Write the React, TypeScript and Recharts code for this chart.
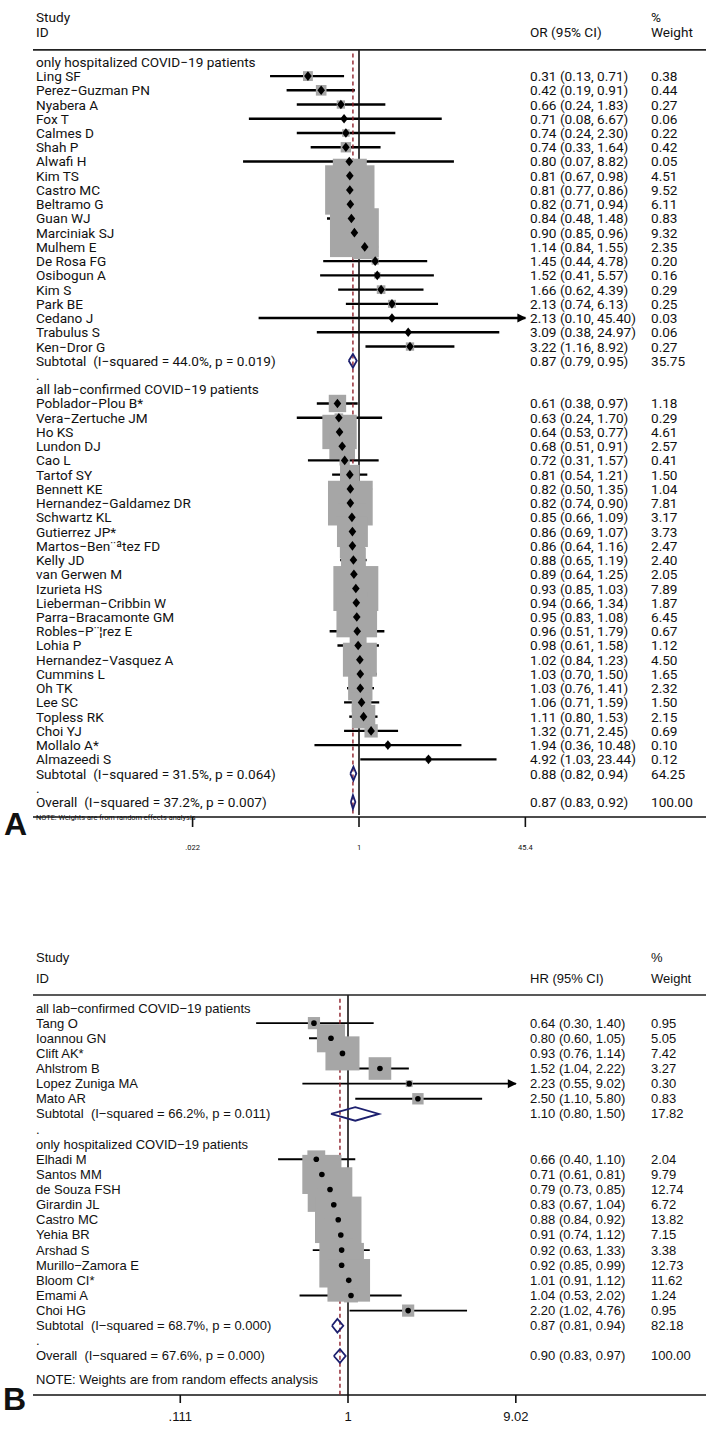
import React from 'react';
import { ScatterChart, Scatter, XAxis, YAxis, ErrorBar } from 'recharts';

// ---------------- Panel A data (OR) ----------------
const A_SECTION_TITLES = ['only hospitalized COVID\u221219 patients', 'all lab\u2212confirmed COVID\u221219 patients'];

const A_HOSP_STUDY = ['Ling SF', 'Perez\u2212Guzman PN', 'Nyabera A', 'Fox T', 'Calmes D', 'Shah P', 'Alwafi H', 'Kim TS', 'Castro MC', 'Beltramo G', 'Guan WJ', 'Marciniak SJ', 'Mulhem E', 'De Rosa FG', 'Osibogun A', 'Kim S', 'Park BE', 'Cedano J', 'Trabulus S', 'Ken\u2212Dror G'];
const A_HOSP_EST = [0.31, 0.42, 0.66, 0.71, 0.74, 0.74, 0.80, 0.81, 0.81, 0.82, 0.84, 0.90, 1.14, 1.45, 1.52, 1.66, 2.13, 2.13, 3.09, 3.22];
const A_HOSP_LO = [0.13, 0.19, 0.24, 0.08, 0.24, 0.33, 0.07, 0.67, 0.77, 0.71, 0.48, 0.85, 0.84, 0.44, 0.41, 0.62, 0.74, 0.10, 0.38, 1.16];
const A_HOSP_HI = [0.71, 0.91, 1.83, 6.67, 2.30, 1.64, 8.82, 0.98, 0.86, 0.94, 1.48, 0.96, 1.55, 4.78, 5.57, 4.39, 6.13, 45.40, 24.97, 8.92];
const A_HOSP_WEIGHT = [0.38, 0.44, 0.27, 0.06, 0.22, 0.42, 0.05, 4.51, 9.52, 6.11, 0.83, 9.32, 2.35, 0.20, 0.16, 0.29, 0.25, 0.03, 0.06, 0.27];
const A_HOSP_SUBTOTAL = { label: 'Subtotal  (I\u2212squared = 44.0%, p = 0.019)', est: 0.87, lo: 0.79, hi: 0.95, weight: 35.75 };

const A_LAB_STUDY = ['Poblador\u2212Plou B*', 'Vera\u2212Zertuche JM', 'Ho KS', 'Lundon DJ', 'Cao L', 'Tartof SY', 'Bennett KE', 'Hernandez\u2212Galdamez DR', 'Schwartz KL', 'Gutierrez JP*', 'Martos\u2212Ben\u00a8\u00aatez FD', 'Kelly JD', 'van Gerwen M', 'Izurieta HS', 'Lieberman\u2212Cribbin W', 'Parra\u2212Bracamonte GM', 'Robles\u2212P\u00a8\u00a6rez E', 'Lohia P', 'Hernandez\u2212Vasquez A', 'Cummins L', 'Oh TK', 'Lee SC', 'Topless RK', 'Choi YJ', 'Mollalo A*', 'Almazeedi S'];
const A_LAB_EST = [0.61, 0.63, 0.64, 0.68, 0.72, 0.81, 0.82, 0.82, 0.85, 0.86, 0.86, 0.88, 0.89, 0.93, 0.94, 0.95, 0.96, 0.98, 1.02, 1.03, 1.03, 1.06, 1.11, 1.32, 1.94, 4.92];
const A_LAB_LO = [0.38, 0.24, 0.53, 0.51, 0.31, 0.54, 0.50, 0.74, 0.66, 0.69, 0.64, 0.65, 0.64, 0.85, 0.66, 0.83, 0.51, 0.61, 0.84, 0.70, 0.76, 0.71, 0.80, 0.71, 0.36, 1.03];
const A_LAB_HI = [0.97, 1.70, 0.77, 0.91, 1.57, 1.21, 1.35, 0.90, 1.09, 1.07, 1.16, 1.19, 1.25, 1.03, 1.34, 1.08, 1.79, 1.58, 1.23, 1.50, 1.41, 1.59, 1.53, 2.45, 10.48, 23.44];
const A_LAB_WEIGHT = [1.18, 0.29, 4.61, 2.57, 0.41, 1.50, 1.04, 7.81, 3.17, 3.73, 2.47, 2.40, 2.05, 7.89, 1.87, 6.45, 0.67, 1.12, 4.50, 1.65, 2.32, 1.50, 2.15, 0.69, 0.10, 0.12];
const A_LAB_SUBTOTAL = { label: 'Subtotal  (I\u2212squared = 31.5%, p = 0.064)', est: 0.88, lo: 0.82, hi: 0.94, weight: 64.25 };
const A_OVERALL = { label: 'Overall  (I\u2212squared = 37.2%, p = 0.007)', est: 0.87, lo: 0.83, hi: 0.92, weight: 100.0 };
const A_TICKS = [0.022, 1, 45.4];
const A_TICK_LABELS = ['.022', '1', '45.4'];

// ---------------- Panel B data (HR) ----------------
const B_SECTION_TITLES = ['all lab\u2212confirmed COVID\u221219 patients', 'only hospitalized COVID\u221219 patients'];

const B_LAB_STUDY = ['Tang O', 'Ioannou GN', 'Clift AK*', 'Ahlstrom B', 'Lopez Zuniga MA', 'Mato AR'];
const B_LAB_EST = [0.64, 0.80, 0.93, 1.52, 2.23, 2.50];
const B_LAB_LO = [0.30, 0.60, 0.76, 1.04, 0.55, 1.10];
const B_LAB_HI = [1.40, 1.05, 1.14, 2.22, 9.02, 5.80];
const B_LAB_WEIGHT = [0.95, 5.05, 7.42, 3.27, 0.30, 0.83];
const B_LAB_SUBTOTAL = { label: 'Subtotal  (I\u2212squared = 66.2%, p = 0.011)', est: 1.10, lo: 0.80, hi: 1.50, weight: 17.82 };

const B_HOSP_STUDY = ['Elhadi M', 'Santos MM', 'de Souza FSH', 'Girardin JL', 'Castro MC', 'Yehia BR', 'Arshad S', 'Murillo\u2212Zamora E', 'Bloom CI*', 'Emami A', 'Choi HG'];
const B_HOSP_EST = [0.66, 0.71, 0.79, 0.83, 0.88, 0.91, 0.92, 0.92, 1.01, 1.04, 2.20];
const B_HOSP_LO = [0.40, 0.61, 0.73, 0.67, 0.84, 0.74, 0.63, 0.85, 0.91, 0.53, 1.02];
const B_HOSP_HI = [1.10, 0.81, 0.85, 1.04, 0.92, 1.12, 1.33, 0.99, 1.12, 2.02, 4.76];
const B_HOSP_WEIGHT = [2.04, 9.79, 12.74, 6.72, 13.82, 7.15, 3.38, 12.73, 11.62, 1.24, 0.95];
const B_HOSP_SUBTOTAL = { label: 'Subtotal  (I\u2212squared = 68.7%, p = 0.000)', est: 0.87, lo: 0.81, hi: 0.94, weight: 82.18 };
const B_OVERALL = { label: 'Overall  (I\u2212squared = 67.6%, p = 0.000)', est: 0.90, lo: 0.83, hi: 0.97, weight: 100.0 };
const B_TICKS = [0.111, 1, 9.02];
const B_TICK_LABELS = ['.111', '1', '9.02'];

// ---------------- helpers ----------------
type Study = { label: string; est: number; lo: number; hi: number; weight: number };
type Section = { title: string; studies: Study[]; subtotal: Study };
type Row = {
  x: number; y: number; kind: string; label: string;
  est?: number; lo?: number; hi?: number; weight?: number; err?: [number, number];
};

function zipStudies(names: string[], est: number[], lo: number[], hi: number[], w: number[]): Study[] {
  return names.map((label, i) => ({ label, est: est[i], lo: lo[i], hi: hi[i], weight: w[i] }));
}

function withErr(s: Study, y: number, kind: string): Row {
  return { ...s, x: s.est, y, kind, err: [s.est - s.lo, s.hi - s.est] };
}

function buildRows(sections: Section[], overall: Study): Row[] {
  const rows: Row[] = [];
  let r = 0;
  sections.forEach((s) => {
    rows.push({ x: 1, y: r++, kind: 'title', label: s.title });
    s.studies.forEach((st) => rows.push(withErr(st, r++, 'study')));
    rows.push(withErr(s.subtotal, r++, 'subtotal'));
    rows.push({ x: 1, y: r++, kind: 'dot', label: '.' });
  });
  rows.push(withErr(overall, r++, 'overall'));
  return rows;
}

const fmt = (v: number) => v.toFixed(2);

type Cfg = {
  top: number; height: number; headerLine: number; row0: number; pitch: number; axis: number;
  nullX: number; pxPerLn: number; ticks: number[]; tickLabels: string[]; estHeader: string;
  font: string; fontSize: number; tickFont: number; tickSize: number; tickMargin: number;
  noteFont: number; noteFontFamily: string; noteOffset: number; studyHdr: number; idHdr: number;
  boxK: number; ciWidth: number; marker: 'diamond' | 'dot'; diamondH: number; letter: string;
};

const PAGE_W = 706;
const PLOT_LEFT = 33;
const LABEL_X = 36;
const EST_X = 530;
const WT_X = 651;
const GRAY = '#a6a6a6';
const NAVY = '#1c1f6e';
const RED = '#8e1f2a';
const NOTE = 'NOTE: Weights are from random effects analysis';

const Empty = () => <g />;

function Panel({ cfg, sections, overall }: { cfg: Cfg; sections: Section[]; overall: Study }) {
  const rows = buildRows(sections, overall);
  const row0 = cfg.row0 - cfg.top;
  const axisLocal = cfg.axis - cfg.top;
  const headerLocal = cfg.headerLine - cfg.top;
  const yMin = -row0 / cfg.pitch;
  const yMax = (axisLocal - row0) / cfg.pitch;
  const rHeader = (headerLocal - row0) / cfg.pitch;
  const xMin = Math.exp((PLOT_LEFT - cfg.nullX) / cfg.pxPerLn);
  const xMax = Math.exp((PAGE_W - cfg.nullX) / cfg.pxPerLn);
  const lastTick = cfg.ticks[cfg.ticks.length - 1];

  const studies = rows.filter((r) => r.kind === 'study');
  const arrows = studies.filter((r) => (r.hi as number) >= lastTick).map((r) => ({ ...r, x: r.hi as number }));
  const pooled = rows.filter((r) => r.kind === 'subtotal' || r.kind === 'overall');
  const textRows = rows.map((r) => ({ ...r, x: 1 }));
  const overallRow = rows[rows.length - 1];
  const noteRow = [{ x: 1, y: overallRow.y + cfg.noteOffset, kind: 'note', label: NOTE }];
  const headerRow = [{ x: 1, y: rHeader, kind: 'header', label: '' }];
  const nullLine = [{ x: 1, y: rHeader }, { x: 1, y: yMax }];
  const dashLine = [{ x: overall.est, y: rHeader + 0.25 }, { x: overall.est, y: yMax }];

  const BoxShape = (p: any) => {
    const s = cfg.boxK * Math.sqrt(p.payload.weight);
    return <rect x={p.cx - s / 2} y={p.cy - s / 2} width={s} height={s} fill={GRAY} />;
  };
  const MarkerShape = (p: any) =>
    cfg.marker === 'diamond' ? (
      <polygon points={`${p.cx},${p.cy - 4.8} ${p.cx + 3.8},${p.cy} ${p.cx},${p.cy + 4.8} ${p.cx - 3.8},${p.cy}`} fill="#000" />
    ) : (
      <circle cx={p.cx} cy={p.cy} r={2.8} fill="#000" />
    );
  const ArrowShape = (p: any) => (
    <polygon points={`${p.cx + 1},${p.cy} ${p.cx - 8},${p.cy - 4.5} ${p.cx - 8},${p.cy + 4.5}`} fill="#000" />
  );
  const TextShape = (p: any) => {
    const d: Row = p.payload;
    const st = { fontFamily: cfg.font, fontSize: cfg.fontSize, fill: '#111', whiteSpace: 'pre' as const };
    const hasNums = d.kind === 'study' || d.kind === 'subtotal' || d.kind === 'overall';
    return (
      <g>
        <text x={LABEL_X} y={p.cy} dominantBaseline="central" style={st}>{d.label}</text>
        {hasNums && (
          <text x={EST_X} y={p.cy} dominantBaseline="central" style={st}>
            {`${fmt(d.est as number)} (${fmt(d.lo as number)}, ${fmt(d.hi as number)})`}
          </text>
        )}
        {hasNums && (
          <text x={WT_X} y={p.cy} dominantBaseline="central" style={st}>{fmt(d.weight as number)}</text>
        )}
      </g>
    );
  };
  const NoteShape = (p: any) => (
    <text x={LABEL_X} y={p.cy} dominantBaseline="central" style={{ fontFamily: cfg.noteFontFamily, fontSize: cfg.noteFont, fill: '#111' }}>
      {p.payload.label}
    </text>
  );
  const HeaderShape = (p: any) => {
    const st = { fontFamily: cfg.font, fontSize: cfg.fontSize, fill: '#111' };
    return (
      <g>
        <line x1={PLOT_LEFT} x2={PAGE_W} y1={p.cy} y2={p.cy} stroke="#222" strokeWidth={1.6} />
        <text x={LABEL_X} y={p.cy - cfg.studyHdr} dominantBaseline="central" style={st}>Study</text>
        <text x={LABEL_X} y={p.cy - cfg.idHdr} dominantBaseline="central" style={st}>ID</text>
        <text x={EST_X} y={p.cy - cfg.idHdr} dominantBaseline="central" style={st}>{cfg.estHeader}</text>
        <text x={WT_X} y={p.cy - cfg.studyHdr} dominantBaseline="central" style={st}>%</text>
        <text x={WT_X} y={p.cy - cfg.idHdr} dominantBaseline="central" style={st}>Weight</text>
      </g>
    );
  };

  return (
    <div style={{ position: 'absolute', left: 0, top: cfg.top, width: PAGE_W, height: cfg.height }}>
      <ScatterChart width={PAGE_W} height={cfg.height} margin={{ top: 0, right: 0, bottom: 0, left: PLOT_LEFT }}>
        <XAxis
          type="number"
          dataKey="x"
          scale="log"
          domain={[xMin, xMax]}
          ticks={cfg.ticks}
          interval={0}
          tickFormatter={(v: number) => cfg.tickLabels[cfg.ticks.indexOf(v)] ?? String(v)}
          height={cfg.height - axisLocal}
          tickSize={cfg.tickSize}
          tickMargin={cfg.tickMargin}
          axisLine={{ stroke: '#111', strokeWidth: 1.6 }}
          tickLine={{ stroke: '#111', strokeWidth: 1.6 }}
          tick={{ fontSize: cfg.tickFont, fontFamily: cfg.font, fill: '#111' }}
        />
        <YAxis type="number" dataKey="y" domain={[yMin, yMax]} reversed hide />
        <Scatter data={dashLine} shape={Empty} line={{ stroke: RED, strokeWidth: 1.4, strokeDasharray: '4 3' }} isAnimationActive={false} />
        <Scatter data={nullLine} shape={Empty} line={{ stroke: '#111', strokeWidth: 1.6 }} isAnimationActive={false} />
        <Scatter data={studies} shape={BoxShape} isAnimationActive={false} />
        <Scatter data={studies} shape={MarkerShape} isAnimationActive={false}>
          <ErrorBar dataKey="err" direction="x" width={0} stroke="#000" strokeWidth={cfg.ciWidth} />
        </Scatter>
        <Scatter data={arrows} shape={ArrowShape} isAnimationActive={false} />
        {pooled.map((d, i) => (
          <Scatter
            key={i}
            data={[
              { x: d.lo as number, y: d.y },
              { x: d.est as number, y: d.y - cfg.diamondH },
              { x: d.hi as number, y: d.y },
              { x: d.est as number, y: d.y + cfg.diamondH },
              { x: d.lo as number, y: d.y },
            ]}
            shape={Empty}
            line={{ stroke: NAVY, strokeWidth: 1.8, fill: 'none' }}
            isAnimationActive={false}
          />
        ))}
        <Scatter data={textRows} shape={TextShape} isAnimationActive={false} />
        <Scatter data={noteRow} shape={NoteShape} isAnimationActive={false} />
        <Scatter data={headerRow} shape={HeaderShape} isAnimationActive={false} />
      </ScatterChart>
    </div>
  );
}

const CFG_A: Cfg = {
  top: 0, height: 880, headerLine: 50, row0: 62, pitch: 14.27, axis: 817,
  nullX: 359, pxPerLn: 43.6, ticks: A_TICKS, tickLabels: A_TICK_LABELS, estHeader: 'OR (95% CI)',
  font: "Roboto, sans-serif", fontSize: 13.6, tickFont: 7.5,
  tickSize: 10, tickMargin: 18, noteFont: 7.4, noteFontFamily: "Roboto, sans-serif",
  noteOffset: 1.05, studyHdr: 32.5, idHdr: 18, boxK: 16, ciWidth: 2.4, marker: 'diamond', diamondH: 0.48, letter: 'A',
};

const CFG_B: Cfg = {
  top: 900, height: 538, headerLine: 995, row0: 1008, pitch: 15.13, axis: 1395,
  nullX: 348, pxPerLn: 76.3, ticks: B_TICKS, tickLabels: B_TICK_LABELS, estHeader: 'HR (95% CI)',
  font: "'Liberation Sans', Arial, sans-serif", fontSize: 13, tickFont: 13,
  tickSize: 8, tickMargin: 9, noteFont: 13, noteFontFamily: "'Liberation Sans', Arial, sans-serif",
  noteOffset: 1.55, studyHdr: 38, idHdr: 17, boxK: 12.5, ciWidth: 1.9, marker: 'dot', diamondH: 0.45, letter: 'B',
};

const SECTIONS_A: Section[] = [
  { title: A_SECTION_TITLES[0], studies: zipStudies(A_HOSP_STUDY, A_HOSP_EST, A_HOSP_LO, A_HOSP_HI, A_HOSP_WEIGHT), subtotal: A_HOSP_SUBTOTAL },
  { title: A_SECTION_TITLES[1], studies: zipStudies(A_LAB_STUDY, A_LAB_EST, A_LAB_LO, A_LAB_HI, A_LAB_WEIGHT), subtotal: A_LAB_SUBTOTAL },
];
const SECTIONS_B: Section[] = [
  { title: B_SECTION_TITLES[0], studies: zipStudies(B_LAB_STUDY, B_LAB_EST, B_LAB_LO, B_LAB_HI, B_LAB_WEIGHT), subtotal: B_LAB_SUBTOTAL },
  { title: B_SECTION_TITLES[1], studies: zipStudies(B_HOSP_STUDY, B_HOSP_EST, B_HOSP_LO, B_HOSP_HI, B_HOSP_WEIGHT), subtotal: B_HOSP_SUBTOTAL },
];

export default function App() {
  return (
    <div style={{ position: 'relative', width: PAGE_W, height: 1438, background: '#fff', overflow: 'hidden' }}>
      <style>{'body{margin:0;background:#fff;}'}</style>
      <Panel cfg={CFG_A} sections={SECTIONS_A} overall={A_OVERALL} />
      <Panel cfg={CFG_B} sections={SECTIONS_B} overall={B_OVERALL} />
      <svg width={PAGE_W} height={1438} style={{ position: 'absolute', left: 0, top: 0, pointerEvents: 'none' }}>
        <text x={4} y={CFG_A.axis + 18} style={{ fontFamily: "'Liberation Sans', Arial, sans-serif", fontWeight: 700, fontSize: 32, fill: '#111' }}>A</text>
        <text x={3} y={CFG_B.axis + 15} style={{ fontFamily: "'Liberation Sans', Arial, sans-serif", fontWeight: 700, fontSize: 32, fill: '#111' }}>B</text>
      </svg>
    </div>
  );
}
